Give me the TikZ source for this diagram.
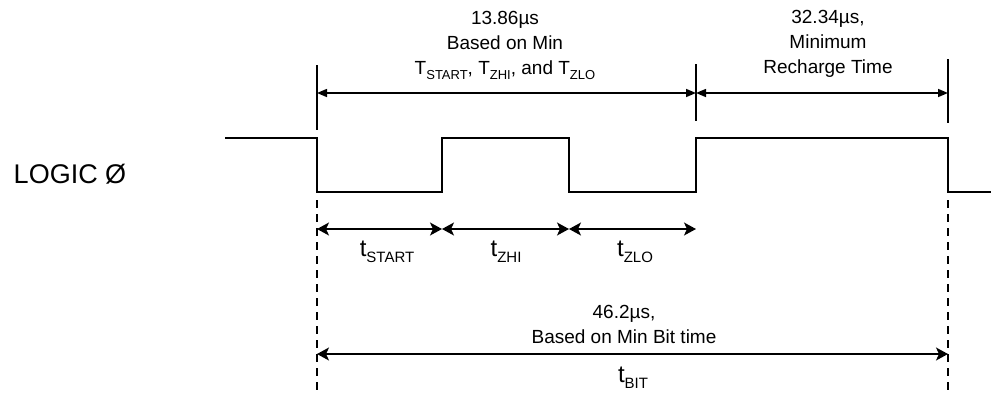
\documentclass[tikz,border=0pt]{standalone}
\usepackage{fontspec}
\setmainfont{Liberation Sans}
\usetikzlibrary{arrows.meta}
\newcommand{\Sb}[1]{\raisebox{-5pt}{\fontsize{13}{13}\selectfont #1}}
\newcommand{\Sbb}[1]{\raisebox{-6pt}{\fontsize{15}{15}\selectfont #1}}
\begin{document}
\begin{tikzpicture}[x=1pt,y=-1pt,
  wave/.style={line width=1.6pt, line join=miter},
  marker/.style={line width=1.6pt},
  guide/.style={line width=1.3pt, dash pattern=on 8pt off 6pt},
  topdim/.style={line width=1.5pt, {Triangle[length=10pt,width=8pt]}-{Triangle[length=10pt,width=8pt]}},
  lowdim/.style={line width=1.5pt, {Stealth[length=12pt,width=13pt,inset=3pt]}-{Stealth[length=12pt,width=13pt,inset=3pt]}},
  lbl/.style={font=\fontsize{19}{25}\selectfont, align=center, inner sep=0pt},
  tlbl/.style={font=\fontsize{24}{26}\selectfont, inner sep=0pt}
]
\useasboundingbox (0,0) rectangle (991,392);

% waveform
\coordinate (w0) at (225,138);
\coordinate (w1) at (317,138);
\coordinate (w2) at (317,192);
\coordinate (w3) at (442,192);
\coordinate (w4) at (442,138);
\coordinate (w5) at (569,138);
\coordinate (w6) at (569,192);
\coordinate (w7) at (696,192);
\coordinate (w8) at (696,138);
\coordinate (w9) at (948,138);
\coordinate (w10) at (948,192);
\coordinate (w11) at (991,192);
\draw[wave] (w0) -- (w1) -- (w2) -- (w3) -- (w4) -- (w5) -- (w6) -- (w7) -- (w8) -- (w9) -- (w10) -- (w11);

% solid markers
\coordinate (m1t) at (317,65);  \coordinate (m1b) at (317,130);
\coordinate (m2t) at (696,64);  \coordinate (m2b) at (696,121);
\coordinate (m3t) at (948,59);  \coordinate (m3b) at (948,123);
\draw[marker] (m1t) -- (m1b);
\draw[marker] (m2t) -- (m2b);
\draw[marker] (m3t) -- (m3b);

% dashed guides
\coordinate (g1t) at (317,200); \coordinate (g1b) at (317,392);
\coordinate (g2t) at (948,200); \coordinate (g2b) at (948,392);
\draw[guide] (g1t) -- (g1b);
\draw[guide] (g2t) -- (g2b);

% top dimensions
\coordinate (a1) at (317,93);
\coordinate (a2) at (696,93);
\coordinate (a3) at (948,93);
\draw[topdim] (a1) -- (a2);
\draw[topdim] (a2) -- (a3);

% lower dimensions
\coordinate (b1) at (317,229);
\coordinate (b2) at (442,229);
\coordinate (b3) at (569,229);
\coordinate (b4) at (696,229);
\draw[lowdim] (b1) -- (b2);
\draw[lowdim] (b2) -- (b3);
\draw[lowdim] (b3) -- (b4);

\coordinate (c1) at (317,354);
\coordinate (c2) at (948,354);
\draw[lowdim] (c1) -- (c2);

% labels
\node[font=\fontsize{27}{30}\selectfont, inner sep=0pt] (logic) at (70,174) {LOGIC Ø};

\node[lbl] (top1) at (505,45) {13.86µs\\Based on Min\\T\Sb{START}, T\Sb{ZHI}, and T\Sb{ZLO}};
\node[lbl] (top2) at (828,44) {32.34µs,\\Minimum\\Recharge Time};

\node[tlbl] (ts) at (387,252) {t\Sbb{START}};
\node[tlbl] (tz) at (506,252) {t\Sbb{ZHI}};
\node[tlbl] (tl) at (635,252) {t\Sbb{ZLO}};

\node[lbl] (bit) at (624,324) {46.2µs,\\Based on Min Bit time};
\node[tlbl] (tb) at (633,378) {t\Sbb{BIT}};
\end{tikzpicture}
\end{document}
